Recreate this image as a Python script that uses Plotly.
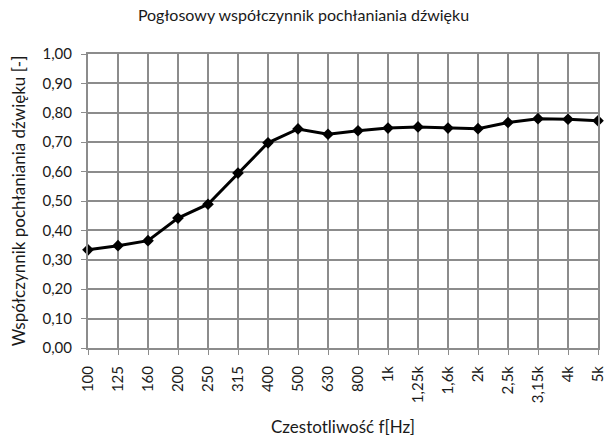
import plotly.graph_objects as go

freq_labels = ["100", "125", "160", "200", "250", "315", "400", "500", "630", "800",
               "1k", "1,25k", "1,6k", "2k", "2,5k", "3,15k", "4k", "5k"]
alpha = [0.334, 0.348, 0.365, 0.442, 0.489, 0.595, 0.698, 0.745, 0.727, 0.739,
         0.748, 0.752, 0.748, 0.746, 0.767, 0.780, 0.778, 0.773]
y_ticks = [i / 10 for i in range(11)]
y_tick_text = [f"{v:.2f}".replace(".", ",") for v in y_ticks]

FONT = "Lato"
GRID = "#8c8c8c"
TXT = "#1a1a1a"

fig = go.Figure()
fig.add_trace(go.Scatter(
    x=freq_labels, y=alpha, mode="lines+markers",
    line=dict(color="black", width=3),
    marker=dict(symbol="diamond", size=9, color="black"),
    cliponaxis=False, showlegend=False,
))

fig.update_layout(
    width=607, height=437,
    margin=dict(l=88, r=9, t=54, b=89),
    paper_bgcolor="white", plot_bgcolor="white",
    font=dict(family=FONT, size=15, color=TXT),
    title=dict(text="Pogłosowy współczynnik pochłaniania dźwięku",
               x=0.5, xanchor="center", y=0.978, yanchor="top",
               font=dict(family=FONT, size=16, color=TXT)),
    xaxis=dict(
        type="category", range=[0, len(freq_labels) - 1],
        automargin=False,
        tickangle=-90, showgrid=True, gridcolor=GRID, gridwidth=2,
        showline=True, linecolor=GRID, linewidth=2, mirror=True,
        ticks="outside", ticklen=5, tickcolor=GRID, tickwidth=1,
        ticklabelstandoff=5,
        title=dict(text="Czestotliwość f[Hz]", standoff=22,
                   font=dict(family=FONT, size=17)),
        tickfont=dict(family=FONT, size=15, color=TXT),
    ),
    yaxis=dict(
        range=[0, 1], tickvals=y_ticks, ticktext=y_tick_text,
        automargin=False,
        showgrid=True, gridcolor=GRID, gridwidth=2,
        showline=True, linecolor=GRID, linewidth=2, mirror=True,
        ticks="outside", ticklen=5, tickcolor=GRID, tickwidth=1,
        ticklabelstandoff=6,
        zeroline=False,
        title=dict(text="Współczynnik pochłaniania dźwięku [-]", standoff=13,
                   font=dict(family=FONT, size=17)),
        tickfont=dict(family=FONT, size=15, color=TXT),
    ),
)

fig.write_html(
    "out.html",
    config={"displayModeBar": False},
    post_script="document.body.style.margin='0';document.body.style.overflow='hidden';",
)
